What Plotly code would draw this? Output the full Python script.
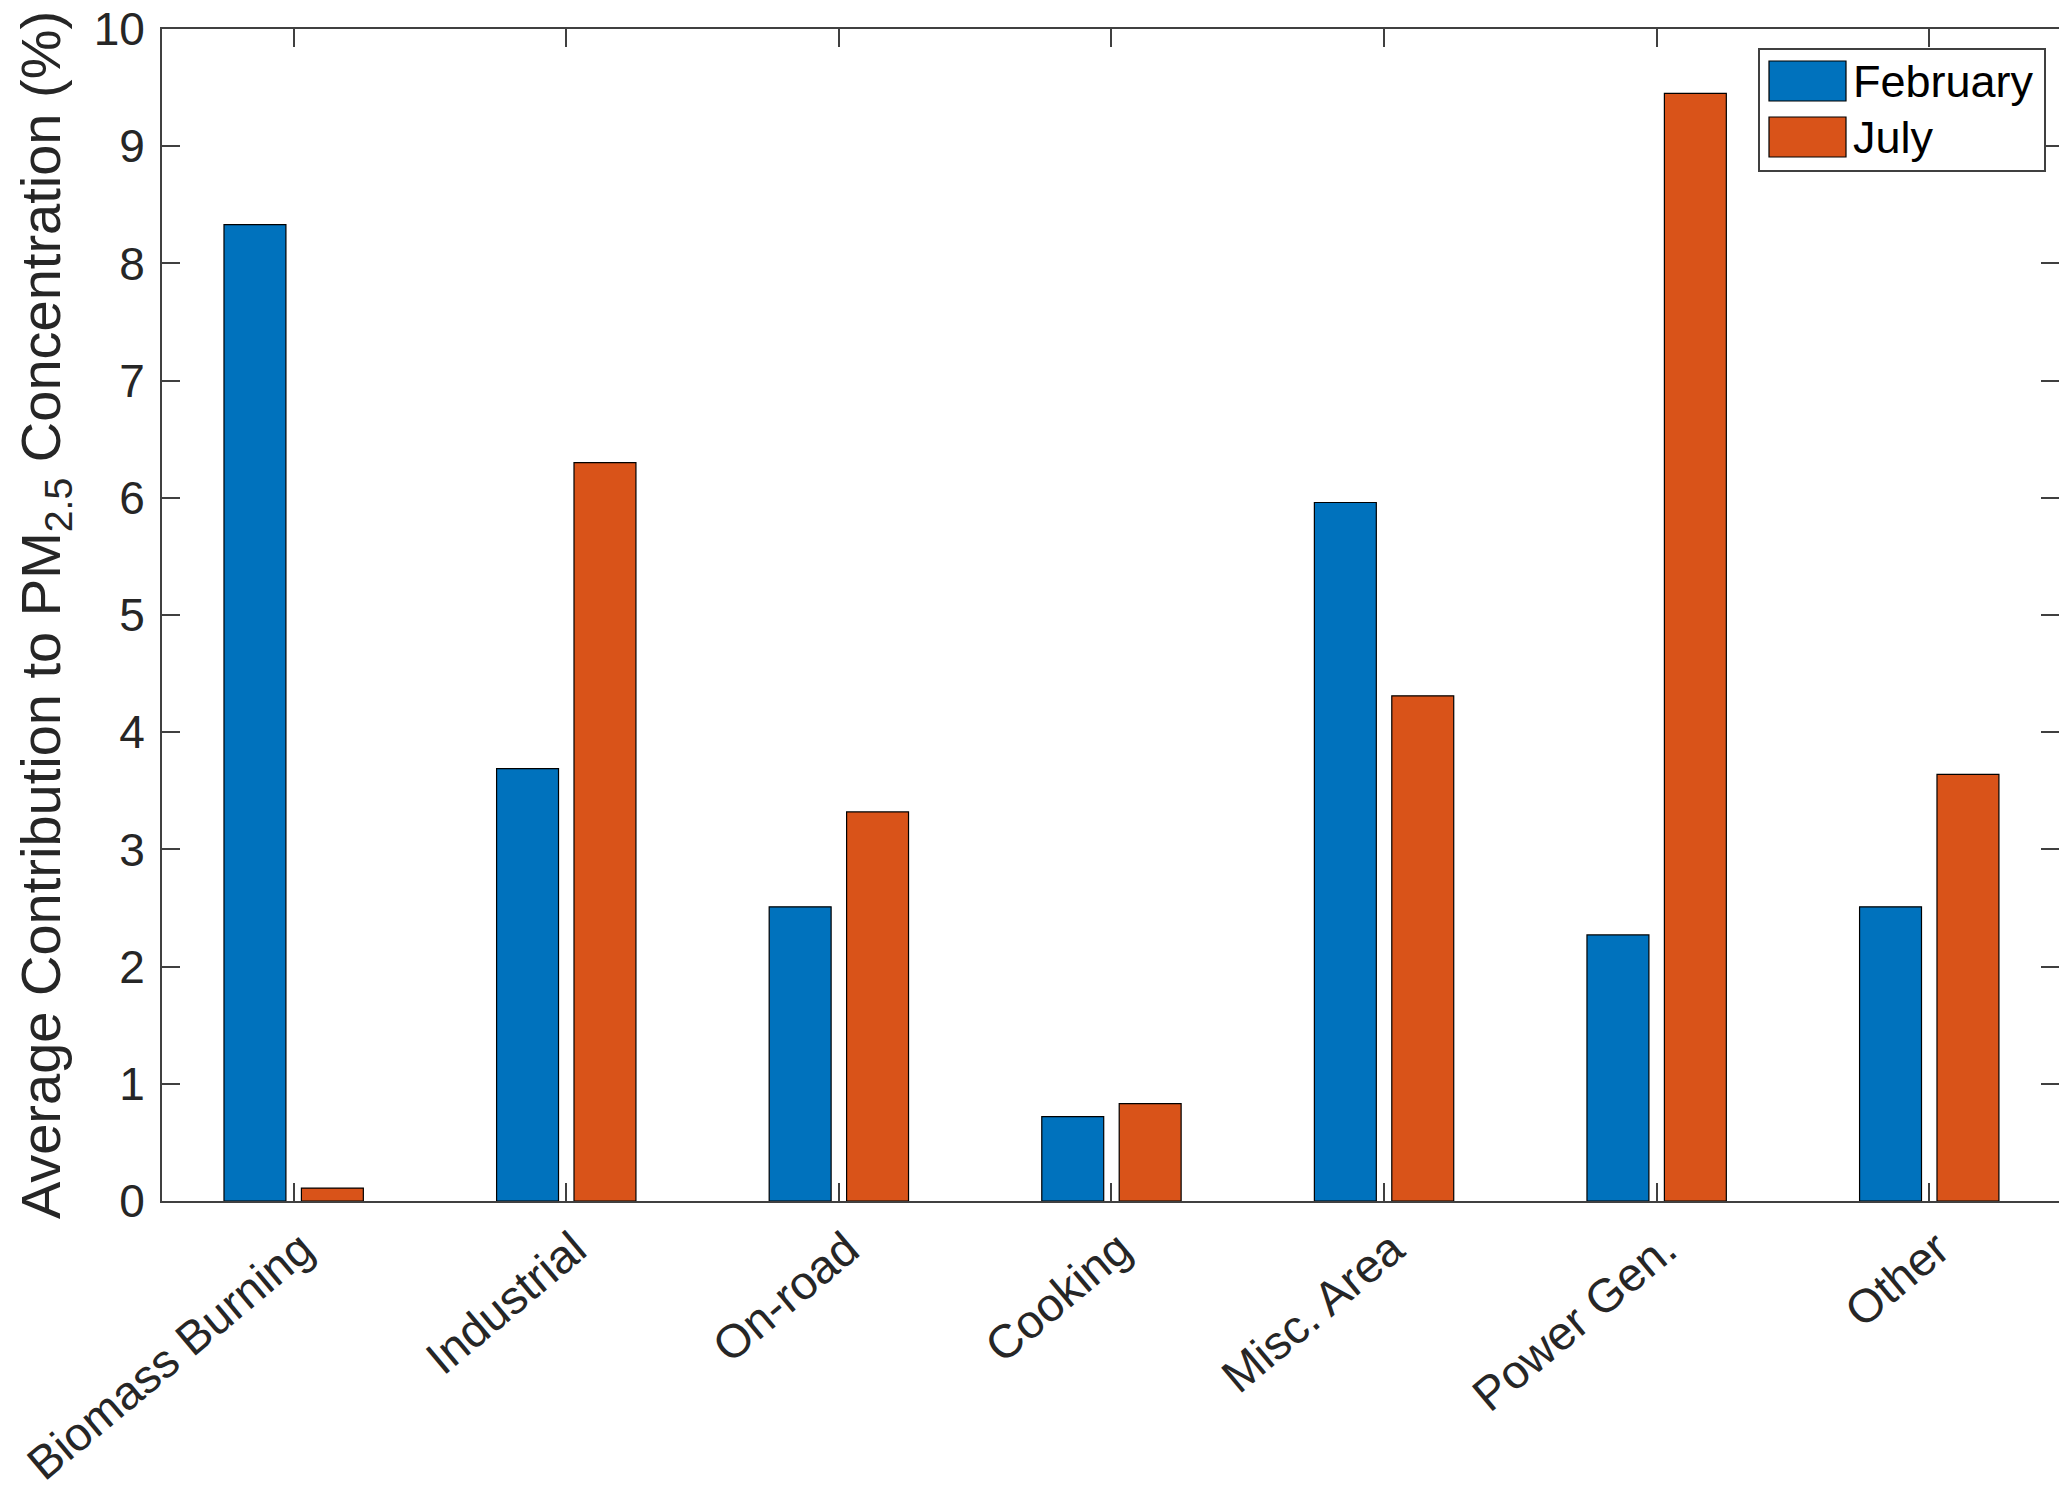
import plotly.graph_objects as go

categories = ["Biomass Burning", "Industrial", "On-road", "Cooking", "Misc. Area", "Power Gen.", "Other"]
february = [8.33, 3.69, 2.51, 0.72, 5.96, 2.27, 2.51]
july = [0.11, 6.30, 3.32, 0.83, 4.31, 9.45, 3.64]
series_names = ["February", "July"]
series_colors = ["#0072BD", "#D95319"]
y_ticks = list(range(0, 11))

FONT = "Liberation Sans, Arial, Helvetica, sans-serif"
TXT = "#262626"
AX = "#404040"

# figure sized to fit inside the page's default 8px body margin
FW, FH = 2051, 1487
ML, MT, MR, MB = 154, 21, 0, 294
PW = FW - ML - MR
PH = FH - MT - MB

fig = go.Figure()
for name, vals, col in zip(series_names, [february, july], series_colors):
    fig.add_trace(go.Bar(
        x=list(range(len(categories))), y=vals, name=name,
        marker=dict(color=col, line=dict(color="#000000", width=1.2)),
        showlegend=False,
    ))

fig.update_layout(
    width=FW, height=FH,
    margin=dict(l=ML, r=MR, t=MT, b=MB, pad=0),
    paper_bgcolor="white", plot_bgcolor="white",
    barmode="group", bargap=0.432, bargroupgap=0.2,
    font=dict(family=FONT, size=46, color=TXT),
)
fig.update_xaxes(
    range=[-0.483, 6.476], tickmode="array",
    tickvals=list(range(len(categories))), ticktext=categories,
    tickangle=-40, ticks="inside", ticklen=18, tickwidth=2, tickcolor=AX,
    showline=True, linecolor=AX, linewidth=2, mirror="ticks",
    showgrid=False, zeroline=False, ticklabelshift=8,
    tickfont=dict(family=FONT, size=47, color=TXT),
)
fig.update_yaxes(
    range=[0, 10], tickmode="array", tickvals=y_ticks,
    ticktext=[str(v) for v in y_ticks],
    ticks="inside", ticklen=18, tickwidth=2, tickcolor=AX,
    showline=True, linecolor=AX, linewidth=2, mirror="ticks",
    showgrid=False, zeroline=False, ticklabelstandoff=6,
    ticklabeloverflow="allow",
    tickfont=dict(family=FONT, size=46, color=TXT),
    title=dict(text="Average Contribution to PM<sub>2.5</sub> Concentration (%)",
               font=dict(family=FONT, size=56, color=TXT)),
    automargin=False,
)

# Custom legend (MATLAB-style, wide swatches); positions given in page pixels
def xp(sx): return (sx - 8 - ML) / PW
def yp(sy): return (FH - MB - (sy - 8)) / PH

fig.add_shape(type="rect", xref="paper", yref="paper",
              x0=xp(1759), x1=xp(2045), y0=yp(171), y1=yp(49),
              line=dict(color=AX, width=2), fillcolor="white", layer="above")
rows = [81, 137]
for name, col, yc in zip(series_names, series_colors, rows):
    fig.add_shape(type="rect", xref="paper", yref="paper",
                  x0=xp(1769), x1=xp(1846), y0=yp(yc + 20), y1=yp(yc - 20),
                  line=dict(color="#000000", width=1.2), fillcolor=col, layer="above")
    fig.add_annotation(xref="paper", yref="paper",
                       x=xp(1851), y=yp(yc),
                       text=name, showarrow=False, xanchor="left", yanchor="middle",
                       font=dict(family=FONT, size=45, color="#000000"))

fig.write_html("out.html")
